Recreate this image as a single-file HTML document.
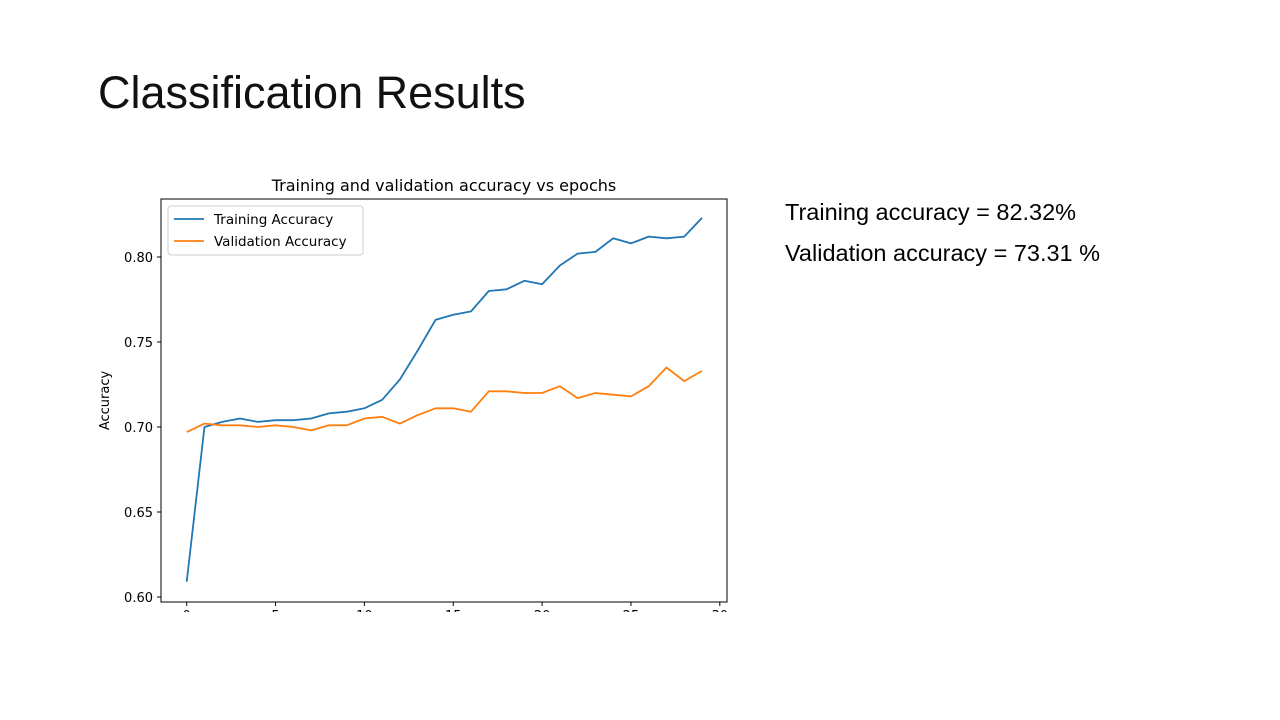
<!DOCTYPE html>
<html><head><meta charset="utf-8"><style>
body{margin:0;width:1280px;height:720px;background:#fff;overflow:hidden;font-family:"Liberation Sans",sans-serif;position:relative}
#title{position:absolute;left:98px;top:67px;font-size:45px;color:#111;white-space:nowrap}
.stat{position:absolute;left:785px;font-size:23.5px;color:#000;white-space:nowrap}
#chartwrap{position:absolute;left:0;top:0;width:1280px;height:612px;overflow:hidden}
</style></head><body>
<div id="title">Classification Results</div>
<div class="stat" style="top:199px">Training accuracy = 82.32%</div>
<div class="stat" style="top:240px">Validation accuracy = 73.31 %</div>
<div id="chartwrap">
<svg id="chart" width="1280" height="640"></svg>
</div>
<script>
const epochs=[0,1,2,3,4,5,6,7,8,9,10,11,12,13,14,15,16,17,18,19,20,21,22,23,24,25,26,27,28,29];
const trainAcc=[0.609,0.700,0.703,0.705,0.703,0.704,0.704,0.705,0.708,0.709,0.711,0.716,0.728,0.745,0.763,0.766,0.768,0.780,0.781,0.786,0.784,0.795,0.802,0.803,0.811,0.808,0.812,0.811,0.812,0.823];
const valAcc=[0.697,0.702,0.701,0.701,0.700,0.701,0.700,0.698,0.701,0.701,0.705,0.706,0.702,0.707,0.711,0.711,0.709,0.721,0.721,0.720,0.720,0.724,0.717,0.720,0.719,0.718,0.724,0.735,0.727,0.733];
const yTicks=[0.60,0.65,0.70,0.75,0.80];
const xTicks=[0,5,10,15,20,25,30];
const NS="http://www.w3.org/2000/svg";
const svg=document.getElementById('chart');
const L=161,R=727,T=199,B=602;
const FF='DejaVu Sans, sans-serif';
const x=v=>186.7+(v-0)*17.77;
const y=v=>597-(v-0.60)*1700;
function el(tag,attrs,parent){const e=document.createElementNS(NS,tag);for(const k in attrs)e.setAttribute(k,attrs[k]);(parent||svg).appendChild(e);return e;}
const t=el('text',{x:(L+R)/2,y:191,'text-anchor':'middle','font-size':'16','font-family':FF,fill:'#000'});
t.textContent='Training and validation accuracy vs epochs';


yTicks.forEach(v=>{
 const ln=el('line',{x1:L-4,x2:L,y1:y(v),y2:y(v),stroke:'#000','stroke-width':1});
 
 
 const tx=el('text',{x:L-8,y:y(v)+5,'text-anchor':'end','font-size':'13','font-family':FF});
 tx.textContent=v.toFixed(2);
 
 
});
xTicks.forEach(v=>{
 const ln=el('line',{x1:x(v),x2:x(v),y1:B,y2:B+4,stroke:'#000','stroke-width':1});
 
 
 const tx=el('text',{x:x(v),y:B+18,'text-anchor':'middle','font-size':'13','font-family':FF});
 tx.textContent=String(v);
 
 
});
const yl=el('text',{x:0,y:0,transform:`translate(109,${(T+B)/2}) rotate(-90)`,'text-anchor':'middle','font-size':'13','font-family':FF});
yl.textContent='Accuracy';


function line(data,color,name){
 const p=el('polyline',{points:data.map((v,i)=>x(epochs[i])+','+y(v)).join(' '),fill:'none',stroke:color,'stroke-width':1.8,'stroke-linejoin':'round'});
 
 
}
line(trainAcc,'#1f77b4','training-accuracy-line');
line(valAcc,'#ff7f0e','validation-accuracy-line');
const fr=el('rect',{x:L,y:T,width:R-L,height:B-T,fill:'none',stroke:'#000','stroke-width':1});


const lg=el('g',{});


el('rect',{x:168,y:206,width:195,height:49,rx:3,fill:'#fff',stroke:'#ccc'},lg);
[['Training Accuracy','#1f77b4',219],['Validation Accuracy','#ff7f0e',241]].forEach(([n,c,yy])=>{
 const g=el('g',{},lg);
 
 
 el('line',{x1:174,x2:204,y1:yy,y2:yy,stroke:c,'stroke-width':1.8},g);
 const tx=el('text',{x:214,y:yy+5,'font-size':'13.5','font-family':FF},g);
 tx.textContent=n;
});
</script>
</body></html>
